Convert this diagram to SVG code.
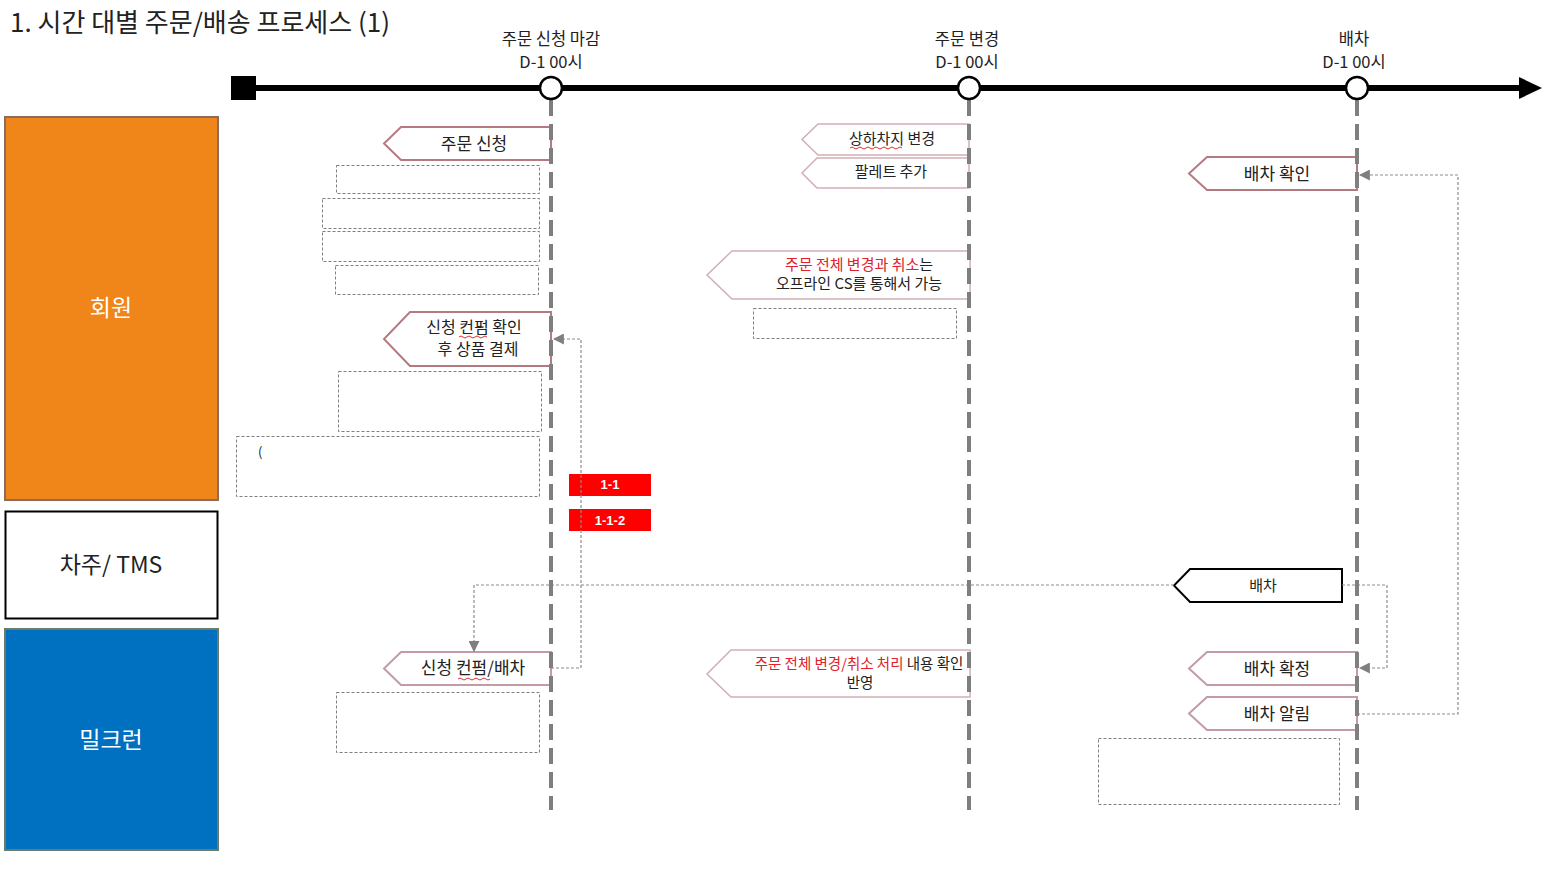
<svg xmlns="http://www.w3.org/2000/svg" width="1562" height="878" viewBox="0 0 1562 878">
<defs>
<style>
text{font-family:"Noto Sans CJK KR","Noto Sans",sans-serif;fill:#222}
.t{font-size:17px;text-anchor:middle}
.t2{font-size:16px;text-anchor:middle}
.s{font-size:15px;text-anchor:middle}
.s2{font-size:14.5px;text-anchor:middle}
.tl{font-size:16.5px;text-anchor:middle;fill:#222}
.lane{font-size:23px;text-anchor:middle}
.pent{fill:#fff;stroke:#B47A80;stroke-width:2}
.pent2{fill:#fff;stroke:#C49AA6;stroke-width:2}
.pent3{fill:#fff;stroke:#D2AEB6;stroke-width:1.5}
.box{fill:none;stroke:#7f7f7f;stroke-width:1;stroke-dasharray:3 2}
.conn{fill:none;stroke:#8c8c8c;stroke-width:1.2;stroke-dasharray:3 2}
.vl{stroke:#7f7f7f;stroke-width:4;stroke-dasharray:16 8}
.red{fill:#E0202A}
.sq{fill:none;stroke:#E03030;stroke-width:1}
.tag{fill:#FF0000}
.tagt{font-size:13px;font-weight:bold;fill:#fff;text-anchor:middle;font-family:"Liberation Sans",sans-serif}
</style>
<marker id="ah" viewBox="0 0 10 10" refX="9" refY="5" markerWidth="11" markerHeight="11" markerUnits="userSpaceOnUse" orient="auto">
<path d="M0,0 L10,5 L0,10 Z" fill="#7f7f7f"/>
</marker>
</defs>

<text x="10" y="32" style="font-size:26px">1. 시간 대별 주문/배송 프로세스 (1)</text>

<g id="lanes">
<g id="lane-member"><rect x="5" y="117" width="213" height="383" fill="#F0851A" stroke="#8E6A5E" stroke-width="2"/><text class="lane" x="111" y="316" style="fill:#fff">회원</text></g>
<g id="lane-tms"><rect x="5.5" y="511.5" width="212" height="107" fill="#fff" stroke="#000" stroke-width="2"/><text class="lane" x="111" y="573">차주/ TMS</text></g>
<g id="lane-milkrun"><rect x="5" y="629" width="213" height="221" fill="#0070C0" stroke="#6B7A6A" stroke-width="2"/><text class="lane" x="111" y="748" style="fill:#fff">밀크런</text></g>
</g>

<g id="timeline">
<rect x="231" y="76" width="25" height="24" fill="#000"/>
<line x1="254" y1="88" x2="1522" y2="88" stroke="#000" stroke-width="6"/>
<polygon points="1519,77 1542,88 1519,99" fill="#000"/>
<text class="tl" x="551" y="45">주문 신청 마감</text>
<text class="tl" x="551" y="68">D-1 00시</text>
<text class="tl" x="967" y="45">주문 변경</text>
<text class="tl" x="967" y="68">D-1 00시</text>
<text class="tl" x="1354" y="45">배차</text>
<text class="tl" x="1354" y="68">D-1 00시</text>
</g>

<g id="dashed-boxes">
<rect class="box" x="336.5" y="165.5" width="203" height="28"/>
<rect class="box" x="322.5" y="198.5" width="217" height="30"/>
<rect class="box" x="322.5" y="231.5" width="217" height="30"/>
<rect class="box" x="335.5" y="265.5" width="203" height="29"/>
<rect class="box" x="338.5" y="371.5" width="203" height="60"/>
<g id="paren-box"><rect class="box" x="236.5" y="436.5" width="303" height="60"/><text x="258" y="457" style="font-size:13px">(</text></g>
<rect class="box" x="753.5" y="308.5" width="203" height="30"/>
<rect class="box" x="336.5" y="692.5" width="203" height="60"/>
<rect class="box" x="1098.5" y="738.5" width="241" height="66"/>
</g>

<g id="n-order-req"><path class="pent" d="M551,127 L401,127 L384,143.5 L401,160 L551,160 Z"/><text class="t" x="474" y="150">주문 신청</text></g>
<g id="n-confirm-pay"><path class="pent" d="M551,312 L410,312 L384,339 L410,366 L551,366 Z"/><text class="t2" x="474" y="333">신청 컨펌 확인</text><text class="t2" x="478" y="355">후 상품 결제</text><path class="sq" d="M459,337 q2,-2 4,0 t4,0 t4,0 t4,0 t4,0 t4,0 t4,0"/></g>
<g id="n-confirm-dispatch"><path class="pent2" d="M551,652 L401,652 L384,668.5 L401,685 L551,685 Z"/><text class="t" x="473" y="674">신청 컨펌/배차</text><path class="sq" d="M458,679 q2,-2 4,0 t4,0 t4,0 t4,0 t4,0 t4,0 t4,0 t4,0"/></g>

<g id="n-loading-change"><path class="pent3" d="M969,124 L818,124 L802,139.5 L818,155 L969,155 Z"/><text class="s" x="892" y="144">상하차지 변경</text><path class="sq" d="M850,148 q2,-2 4,0 t4,0 t4,0 t4,0 t4,0 t4,0 t4,0 t4,0 t4,0 t4,0 t4,0 t4,0 t4,0"/></g>
<g id="n-pallet"><path class="pent3" d="M969,158 L817,158 L802,173 L817,188 L969,188 Z"/><text class="s" x="891" y="177">팔레트 추가</text></g>
<g id="n-cs"><path class="pent3" d="M970,251 L732,251 L707,275 L732,299 L970,299 Z"/><text class="s" x="859" y="270"><tspan class="red">주문 전체 변경과 취소</tspan>는</text><text class="s" x="859" y="289">오프라인 CS를 통해서 가능</text></g>
<g id="n-reflect"><path class="pent3" d="M970,650 L731,650 L707,674 L731,697 L970,697 Z"/><text class="s2" x="859" y="669"><tspan class="red">주문 전체 변경/취소 처리</tspan> 내용 확인</text><text class="s2" x="860" y="688">반영</text></g>

<g id="n-dispatch-check"><path class="pent" d="M1357,157 L1207,157 L1189,173.5 L1207,190 L1357,190 Z"/><text class="t" x="1277" y="180">배차 확인</text></g>
<g id="n-dispatch"><path d="M1342,569 L1190,569 L1174,585.5 L1190,602 L1342,602 Z" fill="#fff" stroke="#000" stroke-width="2"/><text class="s" x="1263" y="591">배차</text></g>
<g id="n-dispatch-fix"><path class="pent2" d="M1357,652 L1207,652 L1189,668.5 L1207,685 L1357,685 Z"/><text class="t" x="1277" y="675">배차 확정</text></g>
<g id="n-dispatch-alert"><path class="pent2" d="M1357,697 L1207,697 L1189,713.5 L1207,730 L1357,730 Z"/><text class="t" x="1277" y="720">배차 알림</text></g>

<g id="tags">
<g id="tag-1-1"><rect class="tag" x="569" y="474" width="82" height="22"/><text class="tagt" x="610" y="489">1-1</text></g>
<g id="tag-1-1-2"><rect class="tag" x="569" y="509" width="82" height="22"/><text class="tagt" x="610" y="525">1-1-2</text></g>
</g>

<g id="connectors">
<path class="conn" d="M551,668 H581 V339 H554" marker-end="url(#ah)"/>
<path class="conn" d="M1174,585 H474 V651" marker-end="url(#ah)"/>
<path class="conn" d="M1342,585 H1387 V668 H1360" marker-end="url(#ah)"/>
<path class="conn" d="M1357,714 H1458 V175 H1360" marker-end="url(#ah)"/>
</g>

<g id="milestones">
<line class="vl" x1="551" y1="100" x2="551" y2="810"/>
<line class="vl" x1="969" y1="100" x2="969" y2="810"/>
<line class="vl" x1="1357" y1="100" x2="1357" y2="810"/>
<circle cx="551" cy="88" r="11" fill="#fff" stroke="#000" stroke-width="2.5"/>
<circle cx="969" cy="88" r="11" fill="#fff" stroke="#000" stroke-width="2.5"/>
<circle cx="1357" cy="88" r="11" fill="#fff" stroke="#000" stroke-width="2.5"/>
</g>
</svg>
